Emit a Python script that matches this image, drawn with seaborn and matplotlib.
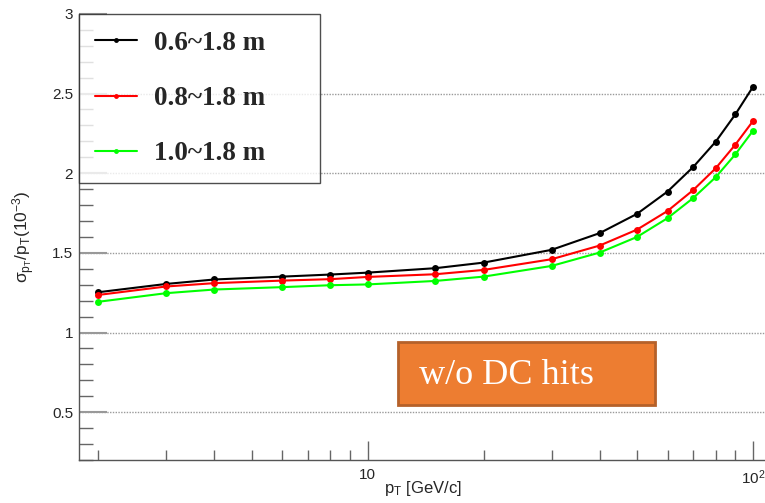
import numpy as np
import pandas as pd
import matplotlib
matplotlib.use("Agg")
import matplotlib.pyplot as plt
import matplotlib.ticker as mticker
from matplotlib.patches import FancyBboxPatch
import seaborn as sns

# --------------------------
# Data (pT in GeV/c, resolution in 1e-3)
# --------------------------
pt = [2, 3, 4, 6, 8, 10, 15, 20, 30, 40, 50, 60, 70, 80, 90, 100]
res_06 = [1.253, 1.305, 1.333, 1.351, 1.364, 1.376, 1.404, 1.439, 1.519,
          1.624, 1.745, 1.885, 2.040, 2.198, 2.370, 2.543]
res_08 = [1.236, 1.289, 1.310, 1.326, 1.335, 1.349, 1.366, 1.393, 1.460,
          1.546, 1.646, 1.763, 1.895, 2.031, 2.180, 2.328]
res_10 = [1.193, 1.247, 1.270, 1.285, 1.297, 1.302, 1.324, 1.351, 1.418,
          1.502, 1.600, 1.718, 1.845, 1.975, 2.119, 2.267]
labels = ["0.6~1.8 m", "0.8~1.8 m", "1.0~1.8 m"]
colors = ["#000000", "#ff0000", "#00ff00"]

df = pd.concat(
    [pd.DataFrame({"pt": pt, "res": r, "range": lab})
     for r, lab in zip([res_06, res_08, res_10], labels)],
    ignore_index=True,
)

# --------------------------
# Style
# --------------------------
sns.set_style("white")
plt.rcParams["font.family"] = ["Liberation Sans", "DejaVu Sans"]
plt.rcParams["mathtext.fontset"] = "custom"
plt.rcParams["mathtext.rm"] = "Liberation Sans"
plt.rcParams["mathtext.it"] = "Liberation Sans"
plt.rcParams["mathtext.sf"] = "Liberation Sans"

W, H = 765, 503
fig = plt.figure(figsize=(W / 100, H / 100), dpi=100)
ax_left, ax_right, ax_top, ax_bot = 78.7, 765, 13.9, 460
ax_w, ax_h = ax_right - ax_left, ax_bot - ax_top
ax = fig.add_axes([ax_left / W, 1 - ax_bot / H, ax_w / W, ax_h / H])

sns.lineplot(
    data=df, x="pt", y="res", hue="range",
    palette=dict(zip(labels, colors)),
    marker="o", markersize=5, markeredgewidth=0,
    linewidth=1.5, ax=ax, zorder=3,
)

ax.set_xscale("log")
ax.set_xlim(1.78, 107.4)
ax.set_ylim(0.2, 3.0)

# y grid, dotted
for yv in [0.5, 1.0, 1.5, 2.0, 2.5]:
    ax.axhline(yv, color="#9a9a9a", linestyle=(0, (1, 1)), linewidth=1, zorder=1)

# ticks (ROOT-like, inward)
ax.yaxis.set_major_locator(mticker.MultipleLocator(0.5))
ax.yaxis.set_minor_locator(mticker.MultipleLocator(0.1))
ax.yaxis.set_major_formatter(mticker.FuncFormatter(lambda v, p: f"{v:g}"))
ax.xaxis.set_major_locator(mticker.FixedLocator([10, 100]))
ax.xaxis.set_major_formatter(mticker.FixedFormatter(["10", r"$10^{2}$"]))
ax.xaxis.set_minor_locator(mticker.LogLocator(base=10, subs=np.arange(2, 10)))
ax.xaxis.set_minor_formatter(mticker.NullFormatter())
ax.tick_params(axis="y", which="major", direction="in", length=20, width=1.5,
               color="#999999", labelsize=11, pad=4, left=True)
ax.tick_params(axis="y", which="minor", direction="in", length=10, width=1,
               color="#666666", left=True)
ax.tick_params(axis="x", which="major", direction="in", length=14, width=1,
               color="#666666", labelsize=11, pad=6, bottom=True)
ax.tick_params(axis="x", which="minor", direction="in", length=7, width=1,
               color="#666666", bottom=True)

for s in ["top", "right"]:
    ax.spines[s].set_visible(False)
for s in ["left", "bottom"]:
    ax.spines[s].set_color("#555555")
    ax.spines[s].set_linewidth(1)

ax.set_xlabel("")
ax.set_ylabel("")
fig.text(384 / W, 1 - 488 / H, r"$\mathregular{p_{T}}$ [GeV/c]", fontsize=12,
         ha="left", va="center")
fig.text(24 / W, 1 - 237 / H, r"$\mathregular{\sigma_{p_{T}}/p_{T}(10^{-3})}$",
         fontsize=12.5, rotation=90, ha="center", va="center")

# legend, a fixed-width box in the top-left corner
handles, labs = ax.get_legend_handles_labels()
for h in handles:
    h.set_markersize(3.5)
leg_w = (320 - ax_left) / ax_w
leg = ax.legend(
    handles, labs, loc="upper left", bbox_to_anchor=(0, 0, leg_w, 1),
    mode="expand", borderaxespad=0, frameon=True, fancybox=False,
    edgecolor="#222222",
    prop={"family": "Liberation Serif", "weight": "bold", "size": 19.5},
    handlelength=1.55, handletextpad=0.6, labelspacing=1.12, borderpad=0.62,
)
leg.get_frame().set_linewidth(1)
leg.set_zorder(5)

# orange annotation box
box = FancyBboxPatch((398 / W, 1 - 405 / H), (655 - 398) / W, (405 - 342) / H,
                     boxstyle="square,pad=0", transform=fig.transFigure,
                     facecolor="#ed7d31", edgecolor="#b5612a", linewidth=2,
                     zorder=6)
fig.patches.append(box)
fig.text(419 / W, 1 - 376 / H, "w/o DC hits", fontsize=26, color="white",
         family="Liberation Serif", ha="left", va="center", zorder=7)

fig.savefig("out.png", dpi=100)
